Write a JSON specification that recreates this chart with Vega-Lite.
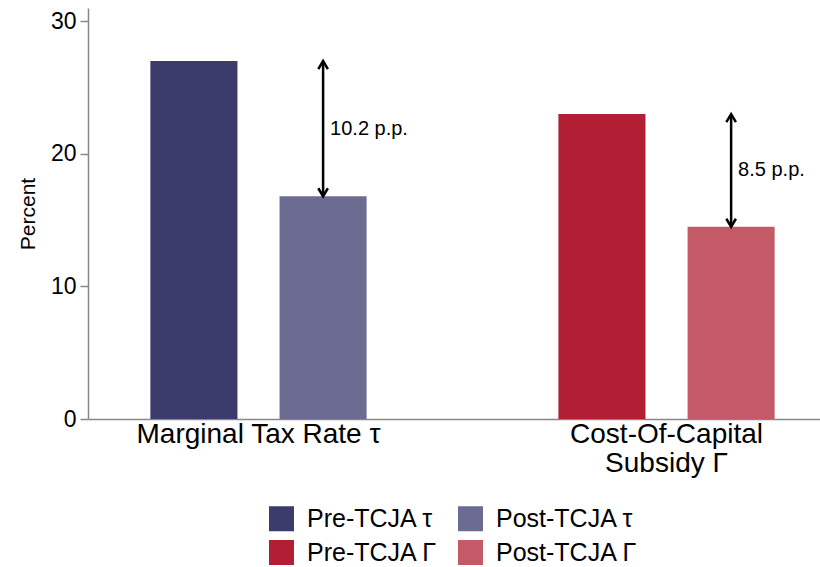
{
  "$schema": "https://vega.github.io/schema/vega-lite/v6.json",
  "width": 732,
  "height": 411,
  "autosize": "none",
  "padding": {"left": 88, "top": 8, "right": 0, "bottom": 148},
  "background": "white",
  "config": {"view": {"stroke": null}, "font": "Liberation Sans"},
  "datasets": {
    "bars": [
      {"group": "Marginal Tax Rate τ", "when": "Pre", "series": "Pre-TCJA τ", "value": 27.0},
      {"group": "Marginal Tax Rate τ", "when": "Post", "series": "Post-TCJA τ", "value": 16.8},
      {"group": "Cost-Of-Capital|Subsidy Γ", "when": "Pre", "series": "Pre-TCJA Γ", "value": 23.0},
      {"group": "Cost-Of-Capital|Subsidy Γ", "when": "Post", "series": "Post-TCJA Γ", "value": 14.5}
    ],
    "arrows": [
      {"group": "Marginal Tax Rate τ", "when": "Post", "top": 27.0, "bottom": 16.8, "mid": 21.9, "label": "10.2 p.p."},
      {"group": "Cost-Of-Capital|Subsidy Γ", "when": "Post", "top": 23.0, "bottom": 14.5, "mid": 18.75, "label": "8.5 p.p."}
    ]
  },
  "layer": [
    {
      "data": {"name": "bars"},
      "mark": {"type": "bar"},
      "encoding": {
        "x": {
          "field": "group", "type": "nominal",
          "sort": ["Marginal Tax Rate τ", "Cost-Of-Capital|Subsidy Γ"],
          "scale": {"paddingInner": 0.47, "paddingOuter": 0.132, "align": 0.579},
          "axis": {
            "title": null, "labelAngle": 0, "labelFontSize": 28, "labelColor": "black",
            "ticks": false, "domainColor": "#888888", "domainWidth": 1.5, "labelPadding": 1,
            "labelExpr": "split(datum.label, '|')", "labelLineHeight": 29, "labelLimit": 0
          }
        },
        "xOffset": {
          "field": "when", "type": "nominal", "sort": ["Pre", "Post"],
          "scale": {"paddingInner": 0.326, "paddingOuter": 0}
        },
        "y": {
          "field": "value", "type": "quantitative", "title": "Percent",
          "scale": {"domain": [0, 31], "nice": false},
          "axis": {
            "values": [0, 10, 20, 30], "grid": false, "labelFontSize": 23, "labelColor": "black",
            "tickColor": "#888888", "domainColor": "#888888", "domainWidth": 1.5, "tickWidth": 1.5,
            "tickSize": 8, "labelPadding": 4, "titleFontSize": 21, "titleFontWeight": "normal",
            "titleColor": "black", "titlePadding": 12
          }
        },
        "color": {
          "field": "series", "type": "nominal",
          "scale": {
            "domain": ["Pre-TCJA τ", "Post-TCJA τ", "Pre-TCJA Γ", "Post-TCJA Γ"],
            "range": ["#3b3b6c", "#6c6c93", "#b21f35", "#c45a67"]
          },
          "legend": {
            "orient": "none", "legendX": 181, "legendY": 498, "columns": 2, "direction": "horizontal", "title": null,
            "symbolType": "square", "symbolSize": 625, "symbolStrokeWidth": 0, "symbolOpacity": 1,
            "labelFontSize": 25, "labelColor": "black", "rowPadding": 8, "columnPadding": 20,
            "labelOffset": 13, "labelLimit": 300
          }
        }
      }
    },
    {
      "data": {"name": "arrows"},
      "mark": {"type": "rule", "color": "black", "strokeWidth": 2.5},
      "encoding": {
        "x": {"field": "group", "type": "nominal", "sort": ["Marginal Tax Rate τ", "Cost-Of-Capital|Subsidy Γ"]},
        "xOffset": {"field": "when", "type": "nominal", "sort": ["Pre", "Post"]},
        "y": {"field": "top", "type": "quantitative", "title": "Percent"},
        "y2": {"field": "bottom"}
      }
    },
    {
      "data": {"name": "arrows"},
      "mark": {"type": "point", "shape": "M-0.6,1L0,0L0.6,1", "filled": false, "stroke": "black", "strokeWidth": 2.5, "size": 256, "opacity": 1},
      "encoding": {
        "x": {"field": "group", "type": "nominal", "sort": ["Marginal Tax Rate τ", "Cost-Of-Capital|Subsidy Γ"]},
        "xOffset": {"field": "when", "type": "nominal", "sort": ["Pre", "Post"]},
        "y": {"field": "top", "type": "quantitative", "title": "Percent"}
      }
    },
    {
      "data": {"name": "arrows"},
      "mark": {"type": "point", "shape": "M-0.6,-1L0,0L0.6,-1", "filled": false, "stroke": "black", "strokeWidth": 2.5, "size": 256, "opacity": 1},
      "encoding": {
        "x": {"field": "group", "type": "nominal", "sort": ["Marginal Tax Rate τ", "Cost-Of-Capital|Subsidy Γ"]},
        "xOffset": {"field": "when", "type": "nominal", "sort": ["Pre", "Post"]},
        "y": {"field": "bottom", "type": "quantitative", "title": "Percent"}
      }
    },
    {
      "data": {"name": "arrows"},
      "mark": {"type": "text", "align": "left", "baseline": "middle", "dx": 7, "fontSize": 20, "color": "black"},
      "encoding": {
        "x": {"field": "group", "type": "nominal", "sort": ["Marginal Tax Rate τ", "Cost-Of-Capital|Subsidy Γ"]},
        "xOffset": {"field": "when", "type": "nominal", "sort": ["Pre", "Post"]},
        "y": {"field": "mid", "type": "quantitative", "title": "Percent"},
        "text": {"field": "label"}
      }
    }
  ]
}
